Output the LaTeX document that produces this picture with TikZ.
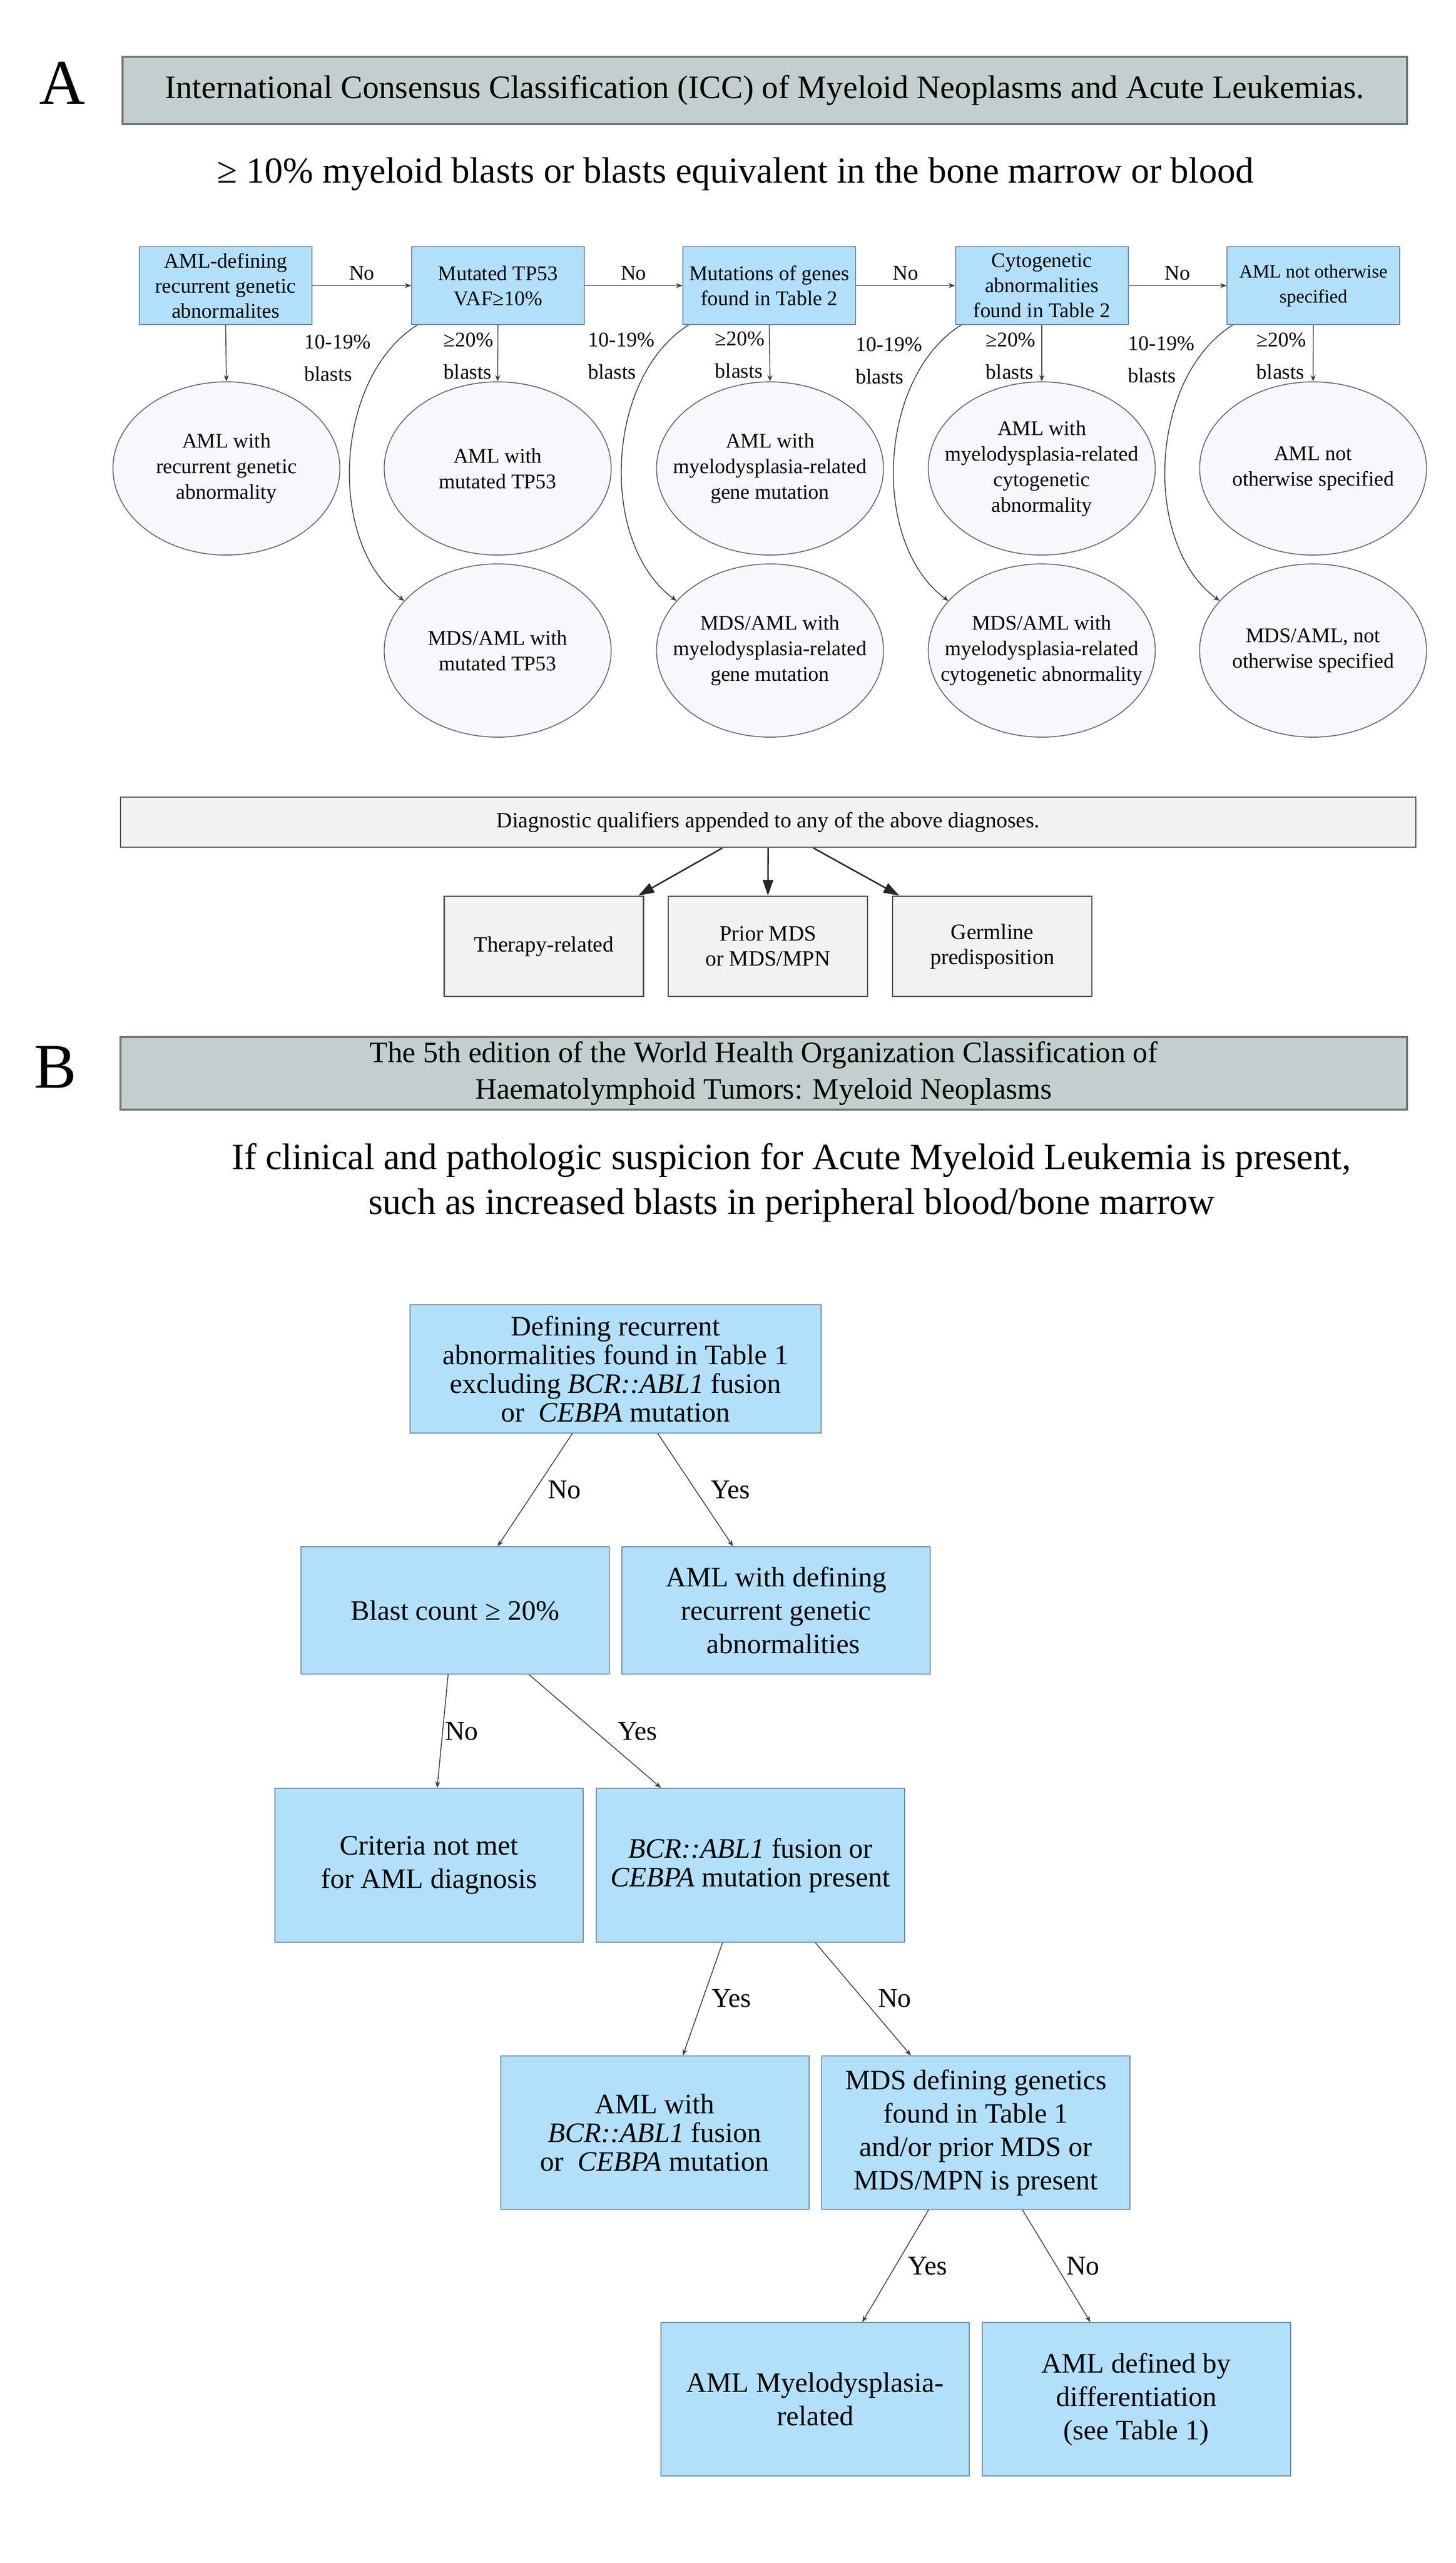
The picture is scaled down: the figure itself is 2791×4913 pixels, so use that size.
\documentclass[tikz,border=0pt]{standalone}
\usepackage{fontspec}
\setmainfont{Liberation Serif}
\usetikzlibrary{calc,arrows.meta,shapes.geometric}
\definecolor{boxblue}{RGB}{178,224,250}
\definecolor{boxedge}{RGB}{112,140,165}
\definecolor{ellfill}{RGB}{247,247,253}
\definecolor{elledge}{RGB}{105,105,105}
\definecolor{headfill}{RGB}{195,207,207}
\definecolor{headedge}{RGB}{118,118,118}
\definecolor{qfill}{RGB}{242,242,242}
\definecolor{qedge}{RGB}{80,80,80}
\definecolor{linec}{RGB}{60,60,60}
\begin{document}
\begin{tikzpicture}[x=0.25pt,y=-0.25pt,
  abox/.style={rectangle, fill=boxblue, draw=boxedge, line width=0.5pt, minimum width=82.75pt, minimum height=37.25pt, inner sep=0pt, align=center, font=\fontsize{10}{12}\selectfont},
  ell/.style={ellipse, fill=ellfill, draw=elledge, line width=0.45pt, minimum width=108.75pt, minimum height=83pt, inner sep=0pt},
  etxt/.style={align=center, font=\fontsize{10}{12.25}\selectfont, inner sep=0pt},
  arr/.style={draw=linec, line width=0.4pt, -{Stealth[length=3pt,width=2.4pt]}},
  nolbl/.style={font=\fontsize{10}{12}\selectfont, above=0pt, inner sep=2.5pt},
  blbl/.style={font=\fontsize{10}{15.5}\selectfont, align=left, inner sep=0pt},
  head/.style={rectangle, fill=headfill, draw=headedge, line width=0.8pt, inner sep=0pt, align=center},
  qbox/.style={rectangle, fill=qfill, draw=qedge, line width=0.7pt, inner sep=0pt, align=center, font=\fontsize{10.5}{12}\selectfont},
  qarr/.style={draw=black!85, line width=0.7pt, -{Triangle[length=7.5pt,width=5pt]}},
  bbox/.style={rectangle, fill=boxblue, draw=boxedge, line width=0.5pt, minimum width=147.75pt, inner sep=0pt, align=center},
  tlbl/.style={font=\fontsize{13}{15}\selectfont, inner sep=0pt},
  letter/.style={font=\fontsize{30.5}{36}\selectfont, anchor=base, inner sep=0pt}
]
\useasboundingbox (0,0) rectangle (2791,4913);
\fill[white] (0,0) rectangle (2791,4913);

% ---------------- Part A ----------------
\node[letter] (LA) at (120,200) {A};
\node[head, minimum width=615.5pt, minimum height=32.25pt, font=\fontsize{15.7}{18}\selectfont] (hA) at (1466,173.5)
  {International Consensus Classification (ICC) of Myeloid Neoplasms and Acute Leukemias.};
\node[font=\fontsize{17.5}{21}\selectfont, anchor=base, inner sep=0pt] (sA) at (1410,351)
  {≥ 10\% myeloid blasts or blasts equivalent in the bone marrow or blood};

\node[abox] (b1) at (432.5,547.5) {AML-defining\\recurrent genetic\\abnormalites};
\node[abox] (b2) at (954.5,547.5) {Mutated TP53\\VAF≥10\%};
\node[abox] (b3) at (1474.5,547.5) {Mutations of genes\\found in Table 2};
\node[abox] (b4) at (1997,547.5) {Cytogenetic\\abnormalities\\found in Table 2};
\node[abox, font=\fontsize{9}{12}\selectfont] (b5) at (2517.5,547.5) {AML not otherwise\\specified};

\node[ell] (e1) at (434,898) {};
\node[ell] (e2) at (954,898) {};
\node[ell] (e3) at (1476,898) {};
\node[ell] (e4) at (1997,898) {};
\node[ell] (e5) at (2517,898) {};
\node[ell] (f2) at (954,1247) {};
\node[ell] (f3) at (1476,1247) {};
\node[ell] (f4) at (1997,1247) {};
\node[ell] (f5) at (2517,1247) {};

\node[etxt] (e1t) at (e1) {AML with\\recurrent genetic\\abnormality};
\node[etxt] (e2t) at (e2) {AML with\\mutated TP53};
\node[etxt] (e3t) at (e3) {AML with\\myelodysplasia-related\\gene mutation};
\node[etxt] (e4t) at (e4) {AML with\\myelodysplasia-related\\cytogenetic\\abnormality};
\node[etxt] (e5t) at (e5) {AML not\\otherwise specified};
\node[etxt] (f2t) at (f2) {MDS/AML with\\mutated TP53};
\node[etxt] (f3t) at (f3) {MDS/AML with\\myelodysplasia-related\\gene mutation};
\node[etxt] (f4t) at (f4) {MDS/AML with\\myelodysplasia-related\\cytogenetic abnormality};
\node[etxt] (f5t) at (f5) {MDS/AML, not\\otherwise specified};

\draw[arr] (b1) -- node[nolbl] {No} (b2);
\draw[arr] (b2) -- node[nolbl] {No} (b3);
\draw[arr] (b3) -- node[nolbl] {No} (b4);
\draw[arr] (b4) -- node[nolbl] {No} (b5);

\draw[arr] (b1.south) -- (e1.north);
\draw[arr] (b2.south) -- (e2.north);
\draw[arr] (b3.south) -- (e3.north);
\draw[arr] (b4.south) -- (e4.north);
\draw[arr] (b5.south) -- (e5.north);

\draw[arr] ($(b2.south west)+(12,0)$) .. controls +(-160,100) and +(-150,-110) .. (f2.152);
\draw[arr] ($(b3.south west)+(12,0)$) .. controls +(-160,100) and +(-150,-110) .. (f3.152);
\draw[arr] ($(b4.south west)+(12,0)$) .. controls +(-160,100) and +(-150,-110) .. (f4.152);
\draw[arr] ($(b5.south west)+(12,0)$) .. controls +(-160,100) and +(-150,-110) .. (f5.152);

\node[blbl, anchor=west] (l2a) at (583,686) {10-19\%\\blasts};
\node[blbl, anchor=east] (l2b) at (947,682) {≥20\%\\blasts};
\node[blbl, anchor=west] (l3a) at (1127,682) {10-19\%\\blasts};
\node[blbl, anchor=east] (l3b) at (1467,680) {≥20\%\\blasts};
\node[blbl, anchor=west] (l4a) at (1640,691) {10-19\%\\blasts};
\node[blbl, anchor=east] (l4b) at (1986,682) {≥20\%\\blasts};
\node[blbl, anchor=west] (l5a) at (2162,689) {10-19\%\\blasts};
\node[blbl, anchor=east] (l5b) at (2505,682) {≥20\%\\blasts};

% qualifiers
\node[qbox, minimum width=620.75pt, minimum height=24pt] (Q) at (1472.5,1576)
  {Diagnostic qualifiers appended to any of the above diagnoses.};
\node[qbox, minimum width=95.5pt, minimum height=48pt] (qa) at (1042.5,1814) {Therapy-related};
\node[qbox, minimum width=95.5pt, minimum height=48pt] (qb) at (1472,1814) {Prior MDS\\or MDS/MPN};
\node[qbox, minimum width=95.5pt, minimum height=48pt] (qc) at (1902,1814) {Germline\\predisposition};
\draw[qarr] ($(Q.south)+(-87.5,0)$) -- ($(qa.north east)+(-11,0)$);
\draw[qarr] (Q.south) -- (qb.north);
\draw[qarr] ($(Q.south)+(86.5,0)$) -- ($(qc.north west)+(14,0)$);

% ---------------- Part B ----------------
\node[letter] (LB) at (106,2085) {B};
\node[head, minimum width=616.5pt, minimum height=34.75pt, font=\fontsize{14.2}{17.5}\selectfont] (hB) at (1464,2057.5)
  {The 5th edition of the World Health Organization Classification of\\Haematolymphoid Tumors: Myeloid Neoplasms};
\node[font=\fontsize{17.7}{21.5}\selectfont, align=center, inner sep=0pt] (sB) at (1517,2267)
  {If clinical and pathologic suspicion for Acute Myeloid Leukemia is present,\\such as increased blasts in peripheral blood/bone marrow};

\node[bbox, minimum width=197pt, minimum height=61.5pt, font=\fontsize{13.5}{13.75}\selectfont] (T) at (1180,2624)
  {Defining recurrent\\abnormalities found in Table 1\\excluding \textit{BCR::ABL1} fusion\\or \ \textit{CEBPA} mutation};
\node[bbox, minimum height=61pt, font=\fontsize{13.5}{16}\selectfont] (Blast) at (872.5,3087) {Blast count ≥ 20\%};
\node[bbox, minimum height=61pt, font=\fontsize{13.5}{16}\selectfont] (AMLdef) at (1487.5,3087)
  {AML with defining\\recurrent genetic\\\ \ abnormalities};
\node[bbox, minimum height=73.75pt, font=\fontsize{13.5}{16}\selectfont] (Crit) at (822.5,3575.5)
  {Criteria not met\\for AML diagnosis};
\node[bbox, minimum height=73.75pt, font=\fontsize{13.5}{13.75}\selectfont] (BCR) at (1438.5,3575.5)
  {\textit{BCR::ABL1} fusion or\\\textit{CEBPA} mutation present};
\node[bbox, minimum height=73.5pt, font=\fontsize{13.5}{13.75}\selectfont] (AMLBCR) at (1255,4088)
  {AML with\\\textit{BCR::ABL1} fusion\\or \ \textit{CEBPA} mutation};
\node[bbox, minimum height=73.5pt, font=\fontsize{13.5}{16}\selectfont] (MDS) at (1870.5,4088)
  {MDS defining genetics\\found in Table 1\\and/or prior MDS or\\MDS/MPN is present};
\node[bbox, minimum height=73.5pt, font=\fontsize{13.5}{16}\selectfont] (Myelo) at (1562.5,4599)
  {AML Myelodysplasia-\\related};
\node[bbox, minimum height=73.5pt, font=\fontsize{13.5}{16}\selectfont] (Def) at (2178,4599)
  {AML defined by\\differentiation\\(see Table 1)};

\draw[arr] ($(T.south)+(-83,0)$) -- ($(Blast.north)+(81.5,0)$);
\draw[arr] ($(T.south)+(81,0)$) -- ($(AMLdef.north)+(-82.5,0)$);
\draw[arr] ($(Blast.south)+(-13.5,0)$) -- ($(Crit.north)+(15.5,0)$);
\draw[arr] ($(Blast.south)+(141.5,0)$) -- ($(BCR.north)+(-171.5,0)$);
\draw[arr] ($(BCR.south)+(-53.5,0)$) -- ($(AMLBCR.north)+(54,0)$);
\draw[arr] ($(BCR.south)+(124.5,0)$) -- ($(MDS.north)+(-124.5,0)$);
\draw[arr] ($(MDS.south)+(-90.5,0)$) -- ($(Myelo.north)+(90.5,0)$);
\draw[arr] ($(MDS.south)+(89.5,0)$) -- ($(Def.north)+(-88,0)$);

\node[tlbl] (n1) at (1082,2856) {No};
\node[tlbl] (y1) at (1400,2856) {Yes};
\node[tlbl] (n2) at (885,3319) {No};
\node[tlbl] (y2) at (1222,3319) {Yes};
\node[tlbl] (y3) at (1402,3831) {Yes};
\node[tlbl] (n3) at (1715,3831) {No};
\node[tlbl] (y4) at (1778,4344) {Yes};
\node[tlbl] (n4) at (2076,4344) {No};
\end{tikzpicture}
\end{document}
